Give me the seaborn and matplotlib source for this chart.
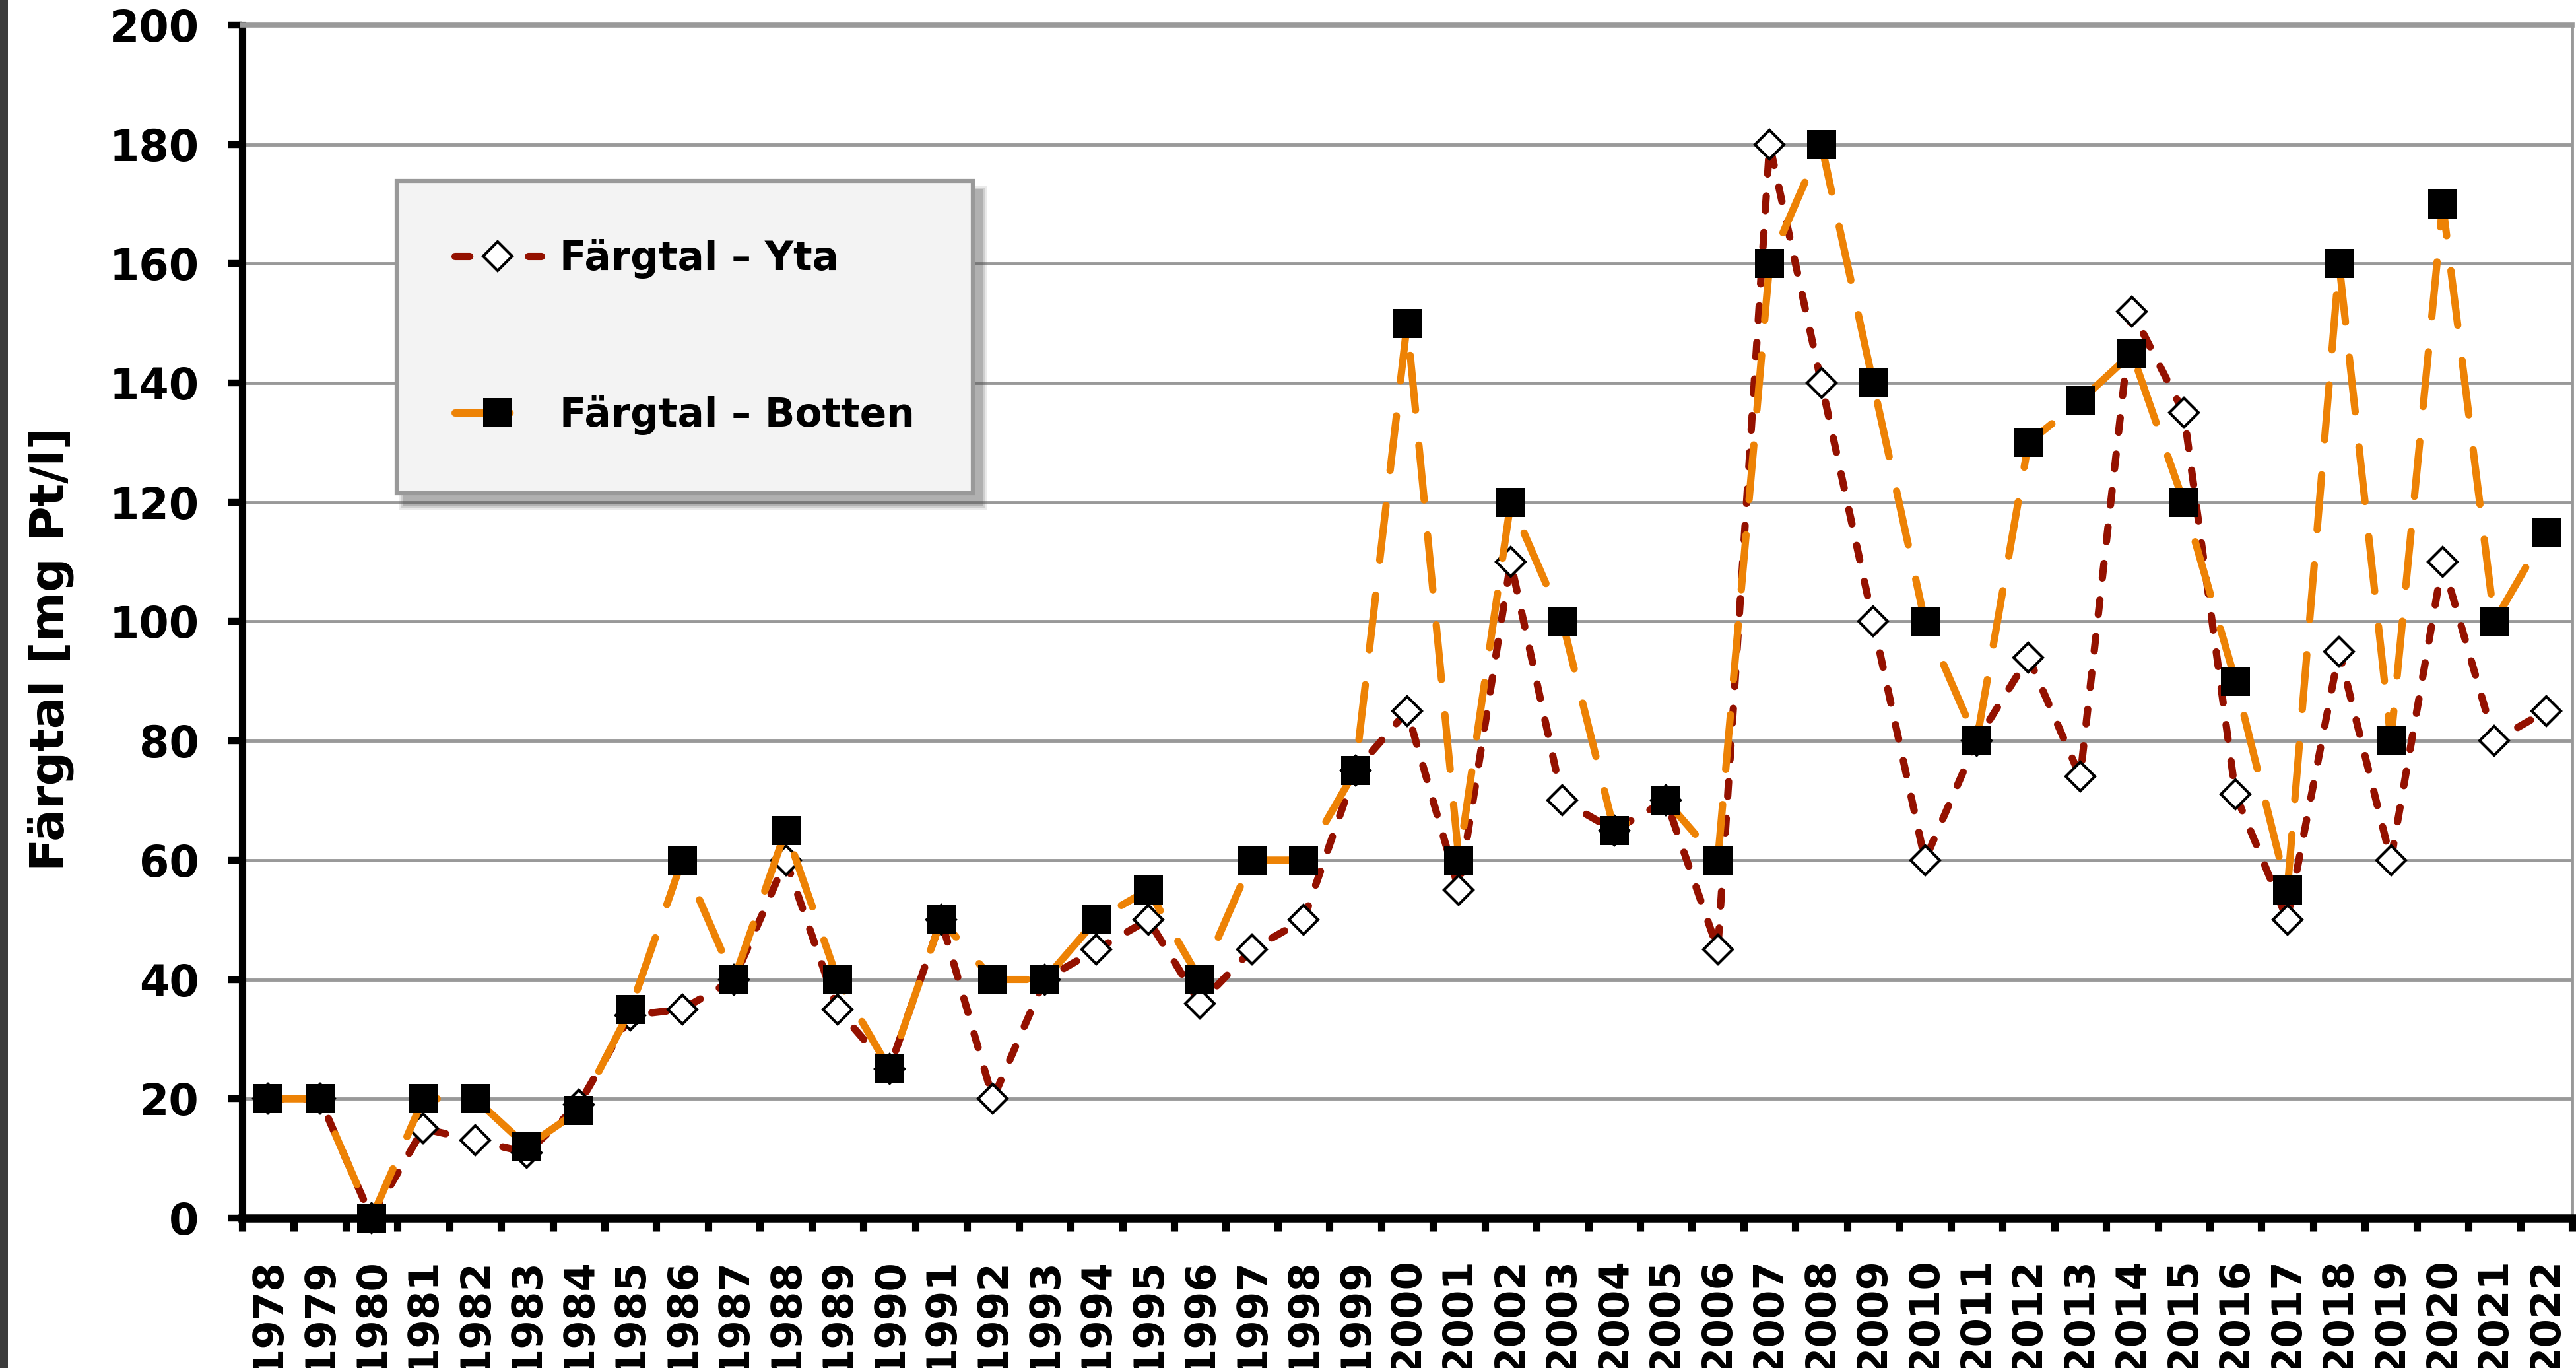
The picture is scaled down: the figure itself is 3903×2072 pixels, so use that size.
# Färgtal i yt- och bottenvatten 1978-2022

import numpy as np
import pandas as pd
import matplotlib
matplotlib.use("Agg")
import matplotlib.pyplot as plt
import seaborn as sns
from matplotlib.patches import Rectangle

# ==========================================================
# DATA
# ==========================================================

years = list(range(1978, 2023))

yta = [20, 20, 0, 15, 13, 11, 19, 34, 35, 40,
       60, 35, 25, 50, 20, 40, 45, 50, 36, 45,
       50, 75, 85, 55, 110, 70, 65, 70, 45, 180,
       140, 100, 60, 80, 94, 74, 152, 135, 71, 50,
       95, 60, 110, 80, 85]

botten = [20, 20, 0, 20, 20, 12, 18, 35, 60, 40,
          65, 40, 25, 50, 40, 40, 50, 55, 40, 60,
          60, 75, 150, 60, 120, 100, 65, 70, 60, 160,
          180, 140, 100, 80, 130, 137, 145, 120, 90, 55,
          160, 80, 170, 100, 115]

series_names = ["Färgtal – Yta", "Färgtal – Botten"]
y_ticks = list(range(0, 201, 20))
y_label = "Färgtal [mg Pt/l]"

df = pd.DataFrame({"year": years, "yta": yta, "botten": botten})

RED = "#941100"
ORANGE = "#ED8205"
GRID = "#999999"

# ==========================================================
# FIGURE
# ==========================================================

sns.set_theme(style="white")
plt.rcParams["font.family"] = ["DejaVu Sans"]
plt.rcParams["font.weight"] = "bold"
plt.rcParams["text.color"] = "black"
plt.rcParams["axes.labelcolor"] = "black"
plt.rcParams["xtick.color"] = "black"
plt.rcParams["ytick.color"] = "black"

fig = plt.figure(figsize=(39.03, 20.72), dpi=100)
ax = fig.add_axes([0.0940, 0.1096, 0.9045, 0.8721])

sns.lineplot(
    data=df, x="year", y="yta", ax=ax,
    color=RED, lw=8, linestyle=(0, (2.0, 3.0)),
    dash_capstyle="round",
    marker="D", markersize=22,
    markerfacecolor="white", markeredgecolor="black",
    markeredgewidth=3,
    label=series_names[0], zorder=3, clip_on=False
)

sns.lineplot(
    data=df, x="year", y="botten", ax=ax,
    color=ORANGE, lw=8, linestyle=(0, (7.5, 4.8)),
    dash_capstyle="round",
    marker="s", markersize=31,
    markerfacecolor="black", markeredgecolor="black",
    markeredgewidth=0,
    label=series_names[1], zorder=4, clip_on=False
)

# ==========================================================
# AXES
# ==========================================================

ax.set_xlim(years[0] - 0.5, years[-1] + 0.5)
ax.set_ylim(0, 200)

ax.set_xticks(years)
ax.set_xticklabels([str(y) for y in years], rotation=90)
ax.set_xticks(np.arange(years[0] - 0.5, years[-1] + 1, 1), minor=True)
ax.set_yticks(y_ticks)

ax.tick_params(axis="x", which="major", length=0, pad=43,
               labelsize=45, bottom=True, labelcolor="black")
ax.tick_params(axis="x", which="minor", length=14.4, width=8,
               color="black", direction="out", bottom=True)
ax.tick_params(axis="y", which="major", length=16, width=7.5,
               color="black", direction="out", pad=31,
               labelsize=47, left=True, labelcolor="black")

ax.yaxis.grid(True, color=GRID, lw=3.5)
ax.xaxis.grid(False)
ax.set_axisbelow(True)

ax.spines["left"].set_color("black")
ax.spines["left"].set_linewidth(8)
ax.spines["bottom"].set_color("black")
ax.spines["bottom"].set_linewidth(9)
ax.spines["right"].set_color(GRID)
ax.spines["right"].set_linewidth(3.5)
ax.spines["top"].set_color(GRID)
ax.spines["top"].set_linewidth(5.5)

ax.set_xlabel("")
ax.set_ylabel(y_label, fontsize=52, fontweight="bold", color="black")
ax.yaxis.set_label_coords(-0.0722, 0.477)

# ==========================================================
# LEGEND
# ==========================================================

leg = ax.legend(
    loc="upper left", bbox_to_anchor=(0.0663, 0.8694),
    borderaxespad=0, prop={"size": 43, "weight": "bold"},
    labelspacing=2.97, borderpad=1.47,
    handlelength=2.2, handletextpad=0.47,
    frameon=True, fancybox=False, labelcolor="black"
)
leg.get_frame().set_facecolor("#f3f3f3")
leg.get_frame().set_edgecolor(GRID)
leg.get_frame().set_linewidth(4.5)
leg.get_frame().set_alpha(1)
leg.set_zorder(6)

# soft shadow under the legend box
fig.canvas.draw()
bb = leg.get_window_extent().transformed(ax.transAxes.inverted())
dx = 12 / (ax.bbox.width)
dy = 16 / (ax.bbox.height)
for k, a in enumerate([0.12, 0.18, 0.25]):
    grow = (3 - k) * 3
    ax.add_patch(Rectangle(
        (bb.x0 + dx - grow / ax.bbox.width, bb.y0 - dy - grow / ax.bbox.height),
        bb.width + 2 * grow / ax.bbox.width,
        bb.height + 2 * grow / ax.bbox.height,
        transform=ax.transAxes, facecolor="#555555", edgecolor="none",
        alpha=a, zorder=5, clip_on=False
    ))

# dark frame edge on the left of the picture
fig.patches.append(Rectangle((0, 0), 12 / 3903, 1, transform=fig.transFigure,
                             facecolor="#3c3c3c", edgecolor="none"))

fig.savefig("out.png", dpi=100)
